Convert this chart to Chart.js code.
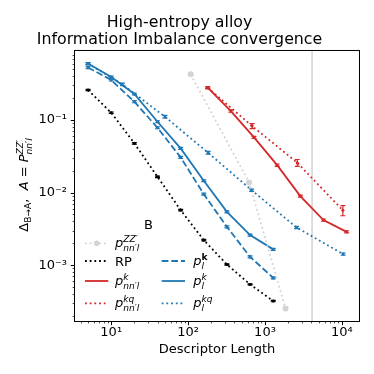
<!DOCTYPE html>
<html><head><meta charset="utf-8">
<script src="https://cdn.jsdelivr.net/npm/chart.js@4/dist/chart.umd.min.js"></script>
<style>html,body{margin:0;padding:0;background:#fff}canvas{display:block}</style>
</head><body>
<canvas id="c" width="374" height="374"></canvas>
<script>
// ---------------- data ----------------
const TITLE = ['High-entropy alloy', 'Information Imbalance convergence'];
const X_LABEL = 'Descriptor Length';
const LEGEND_TITLE = 'B';
const VLINE_X = 4096;

const lenL = [5, 10, 20, 40, 80, 160, 320, 640, 1280];          // p_l^k, p_l^k(bold), RP
const lenLkq = [5, 14, 50, 182, 670, 2570, 10400];              // p_l^kq
const lenN = [180, 360, 720, 1440, 2880, 5760, 11520];          // p_nn'l^k
const lenNkq = [180, 680, 2630, 10300];                         // p_nn'l^kq
const lenZZ = [108, 622, 1850];                                 // p_nn'l^ZZ'

const valZZ = [0.426, 0.0138, 0.000253];
const valRP = [0.259, 0.126, 0.0478, 0.0165, 0.00574, 0.00221, 0.00102, 0.000543, 0.00032];
const errRP = [0.005, 0.003, 0.0012, 0.0004, 0.00015, 0.00005, 0.00002, 0.00001, 0.000007];
const valNk = [0.279, 0.133, 0.0577, 0.0239, 0.00896, 0.00418, 0.00288];
const errNk = [0.008, 0.005, 0.002, 0.0009, 0.0003, 0.00015, 0.0001];
const valNkq = [0.279, 0.0826, 0.0258, 0.0057];
const errNkq = [0.008, 0.0065, 0.0028, 0.0009];
const valLkb = [0.53, 0.356, 0.179, 0.0783, 0.0306, 0.00952, 0.00337, 0.0013, 0.000668];
const errLkb = [0.02, 0.011, 0.006, 0.0025, 0.001, 0.0003, 0.0001, 0.00004, 0.00002];
const valLk = [0.60, 0.392, 0.229, 0.0948, 0.0407, 0.01455, 0.00543, 0.0026, 0.00165];
const errLk = [0.02, 0.012, 0.007, 0.003, 0.0012, 0.0004, 0.00016, 0.00008, 0.00005];
const valLkq = [0.60, 0.31, 0.111, 0.0354, 0.0108, 0.00331, 0.00142];
const errLkq = [0.02, 0.012, 0.005, 0.0015, 0.0004, 0.00012, 0.00005];

const X_MIN = 3.38, X_MAX = 16700, Y_MIN = 1.70e-4, Y_MAX = 0.895;

// ---------------- helpers ----------------
const BLUE = '#1f77b4', RED = '#d62728', GRAY = '#d3d3d3';
const FONT = '"DejaVu Sans"';
const DOT = [1.8, 2.9], DASH = [6.7, 2.9];
const FS = 13;
const pts = (xs, ys) => xs.map((x, i) => ({x, y: ys[i]}));

function ds(label, xs, ys, errs, color, dash, extra) {
  return Object.assign({
    label, data: pts(xs, ys), errs,
    showLine: true, borderColor: color, backgroundColor: color,
    borderWidth: 1.8, borderDash: dash, borderCapStyle: 'butt',
    pointRadius: 1.5, pointBackgroundColor: color, pointBorderWidth: 0, pointHoverRadius: 0
  }, extra || {});
}

const SUP = {'-':'⁻','0':'⁰','1':'¹','2':'²','3':'³','4':'⁴','5':'⁵','6':'⁶','7':'⁷','8':'⁸','9':'⁹'};
function powLabel(v) {
  const e = Math.log10(v);
  if (Math.abs(e - Math.round(e)) > 1e-9) return '';
  return '10' + String(Math.round(e)).split('').map(c => SUP[c]).join('');
}
function logTicks(min, max) {
  const out = [];
  for (let e = Math.floor(Math.log10(min)); e <= Math.ceil(Math.log10(max)); e++)
    for (let m = 1; m < 10; m++) {
      const v = parseFloat((m * Math.pow(10, e)).toPrecision(6));
      if (v >= min && v <= max) out.push({value: v});
    }
  return out;
}
function fnt(f, s) { return (f === 'i' ? 'italic ' : f === 'b' ? 'bold ' : '') + s + 'px ' + FONT; }
function drawMath(ctx, x, y, parts, size, draw) {
  let cx = x; const ss = size * 0.7;
  for (const p of parts) {
    ctx.font = fnt(p.f, size);
    if (draw) ctx.fillText(p.t, cx, y);
    cx += ctx.measureText(p.t).width;
    let w1 = 0, w2 = 0;
    if (p.sup) {
      let sx = cx; const sy = y - size * 0.40;
      for (const q of p.sup) { ctx.font = fnt(q.f, ss); if (draw) ctx.fillText(q.t, sx, sy); sx += ctx.measureText(q.t).width; }
      w1 = sx - cx;
    }
    if (p.sub) {
      let sx = cx; const sy = y + size * (p.sup ? 0.30 : 0.22);
      for (const q of p.sub) { ctx.font = fnt(q.f, ss); if (draw) ctx.fillText(q.t, sx, sy); sx += ctx.measureText(q.t).width; }
      w2 = sx - cx;
    }
    cx += Math.max(w1, w2);
  }
  return cx - x;
}

const NNL = [{t: 'nn′l', f: 'i'}];
const LEG = [
  {col: 0, row: 0, color: GRAY, dash: DOT, marker: true, text: [{t: 'p', f: 'i', sup: [{t: 'ZZ′', f: 'i'}], sub: NNL}]},
  {col: 0, row: 1, color: '#000', dash: DOT, text: [{t: 'RP', f: 'n'}]},
  {col: 0, row: 2, color: RED, dash: [], text: [{t: 'p', f: 'i', sup: [{t: 'k', f: 'i'}], sub: NNL}]},
  {col: 0, row: 3, color: RED, dash: DOT, text: [{t: 'p', f: 'i', sup: [{t: 'kq', f: 'i'}], sub: NNL}]},
  {col: 1, row: 1, color: BLUE, dash: DASH, text: [{t: 'p', f: 'i', sup: [{t: 'k', f: 'b'}], sub: [{t: 'l', f: 'i'}]}]},
  {col: 1, row: 2, color: BLUE, dash: [], text: [{t: 'p', f: 'i', sup: [{t: 'k', f: 'i'}], sub: [{t: 'l', f: 'i'}]}]},
  {col: 1, row: 3, color: BLUE, dash: DOT, text: [{t: 'p', f: 'i', sup: [{t: 'kq', f: 'i'}], sub: [{t: 'l', f: 'i'}]}]}
];
const Y_TITLE = [
  {t: 'Δ', f: 'n', sub: [{t: 'B→A', f: 'n'}]},
  {t: ',  ', f: 'n'}, {t: 'A', f: 'i'}, {t: ' = ', f: 'n'},
  {t: 'P', f: 'i', sup: [{t: 'ZZ′', f: 'i'}], sub: NNL}
];

const decor = {
  id: 'decor',
  beforeDatasetsDraw(chart) {
    const {ctx, chartArea: a, scales: {x}} = chart;
    const px = x.getPixelForValue(VLINE_X);
    ctx.save(); ctx.strokeStyle = GRAY; ctx.lineWidth = 1.5;
    ctx.beginPath(); ctx.moveTo(px, a.top); ctx.lineTo(px, a.bottom); ctx.stroke(); ctx.restore();
  },
  afterDatasetsDraw(chart) {
    const {ctx, chartArea: a, scales: {x, y}} = chart;
    ctx.save();
    ctx.beginPath(); ctx.rect(a.left, a.top, a.right - a.left, a.bottom - a.top); ctx.clip();
    chart.data.datasets.forEach(d => {
      if (!d.errs) return;
      ctx.strokeStyle = d.borderColor; ctx.lineWidth = 1.2; ctx.setLineDash([]);
      d.data.forEach((p, i) => {
        const e = d.errs[i]; if (!e) return;
        const cx = x.getPixelForValue(p.x);
        const y1 = y.getPixelForValue(p.y + e), y2 = y.getPixelForValue(Math.max(p.y - e, 1e-12));
        ctx.beginPath();
        ctx.moveTo(cx, y1); ctx.lineTo(cx, y2);
        ctx.moveTo(cx - 2.5, y1); ctx.lineTo(cx + 2.5, y1);
        ctx.moveTo(cx - 2.5, y2); ctx.lineTo(cx + 2.5, y2);
        ctx.stroke();
      });
    });
    ctx.restore();

    // frame + tick marks
    ctx.save();
    ctx.strokeStyle = '#000'; ctx.lineWidth = 1;
    ctx.strokeRect(a.left - 0.5, a.top - 0.5, a.right - a.left + 1, a.bottom - a.top + 1);
    x.ticks.forEach(t => {
      const px = Math.round(x.getPixelForValue(t.value)) + 0.5, maj = powLabel(t.value) !== '';
      ctx.lineWidth = maj ? 1 : 0.7;
      ctx.beginPath(); ctx.moveTo(px, a.bottom); ctx.lineTo(px, a.bottom + (maj ? 4.2 : 2.4)); ctx.stroke();
    });
    y.ticks.forEach(t => {
      const py = Math.round(y.getPixelForValue(t.value)) + 0.5, maj = powLabel(t.value) !== '';
      ctx.lineWidth = maj ? 1 : 0.7;
      ctx.beginPath(); ctx.moveTo(a.left, py); ctx.lineTo(a.left - (maj ? 4.2 : 2.4), py); ctx.stroke();
    });
    ctx.restore();

    // legend
    ctx.save();
    ctx.fillStyle = '#000'; ctx.textBaseline = 'alphabetic'; ctx.textAlign = 'left';
    ctx.font = fnt('n', FS);
    ctx.textAlign = 'center'; ctx.fillText(LEGEND_TITLE, 148.5, 228.5); ctx.textAlign = 'left';
    const rowsY = [243.3, 261, 281, 303.3];
    const hx = [[85, 108.3], [161.7, 185]], tx = [115, 193.3];
    LEG.forEach(L => {
      const yy = rowsY[L.row];
      ctx.strokeStyle = L.color; ctx.lineWidth = 1.8; ctx.setLineDash(L.dash); ctx.lineCap = 'butt';
      ctx.beginPath(); ctx.moveTo(hx[L.col][0], yy); ctx.lineTo(hx[L.col][1], yy); ctx.stroke();
      ctx.setLineDash([]);
      if (L.marker) { ctx.fillStyle = L.color; ctx.beginPath(); ctx.arc((hx[L.col][0] + hx[L.col][1]) / 2, yy, 2.8, 0, 2 * Math.PI); ctx.fill(); }
      ctx.fillStyle = '#000';
      const base = L.text[0].t === 'RP' ? yy + 4.7 : yy + 4;
      drawMath(ctx, tx[L.col], base, L.text, FS, true);
    });
    // y-axis title
    const w = drawMath(ctx, 0, 0, Y_TITLE, FS, false);
    ctx.translate(28, 185);
    ctx.rotate(-Math.PI / 2);
    drawMath(ctx, -w / 2, 0, Y_TITLE, FS, true);
    ctx.restore();
  }
};

Chart.defaults.font.family = FONT;
Chart.defaults.color = '#000';

new Chart(document.getElementById('c'), {
  type: 'scatter',
  data: {
    datasets: [
      ds('ZZ', lenZZ, valZZ, null, GRAY, DOT, {pointRadius: 3}),
      ds('RP', lenL, valRP, errRP, '#000', DOT),
      ds('Nk', lenN, valNk, errNk, RED, []),
      ds('Nkq', lenNkq, valNkq, errNkq, RED, DOT),
      ds('Lkb', lenL, valLkb, errLkb, BLUE, DASH),
      ds('Lk', lenL, valLk, errLk, BLUE, []),
      ds('Lkq', lenLkq, valLkq, errLkq, BLUE, DOT)
    ]
  },
  options: {
    responsive: false, animation: false, devicePixelRatio: 1,
    layout: {padding: {left: 0, right: 15, top: 0, bottom: 0}},
    plugins: {
      legend: {display: false}, tooltip: {enabled: false},
      title: {display: true, text: TITLE, color: '#000', font: {size: 15.8, weight: 'normal', lineHeight: 1.05}, padding: {top: 14.7, bottom: 3.1}}
    },
    scales: {
      x: {
        type: 'logarithmic', min: X_MIN, max: X_MAX,
        afterBuildTicks: s => { s.ticks = logTicks(X_MIN, X_MAX); },
        afterFit: s => { s.height = 53; },
        grid: {display: false, drawTicks: false},
        border: {display: false},
        ticks: {autoSkip: false, maxRotation: 0, padding: 4, font: {size: FS}, callback: v => powLabel(v)},
        title: {display: true, text: X_LABEL, font: {size: FS}, padding: {top: 0, bottom: 16.7}}
      },
      y: {
        type: 'logarithmic', min: Y_MIN, max: Y_MAX,
        afterBuildTicks: s => { s.ticks = logTicks(Y_MIN, Y_MAX); },
        afterFit: s => { s.width = 75; },
        grid: {display: false, drawTicks: false},
        border: {display: false},
        ticks: {autoSkip: false, padding: 8, font: {size: FS}, callback: v => powLabel(v)}
      }
    }
  },
  plugins: [decor]
});
</script>
</body></html>
